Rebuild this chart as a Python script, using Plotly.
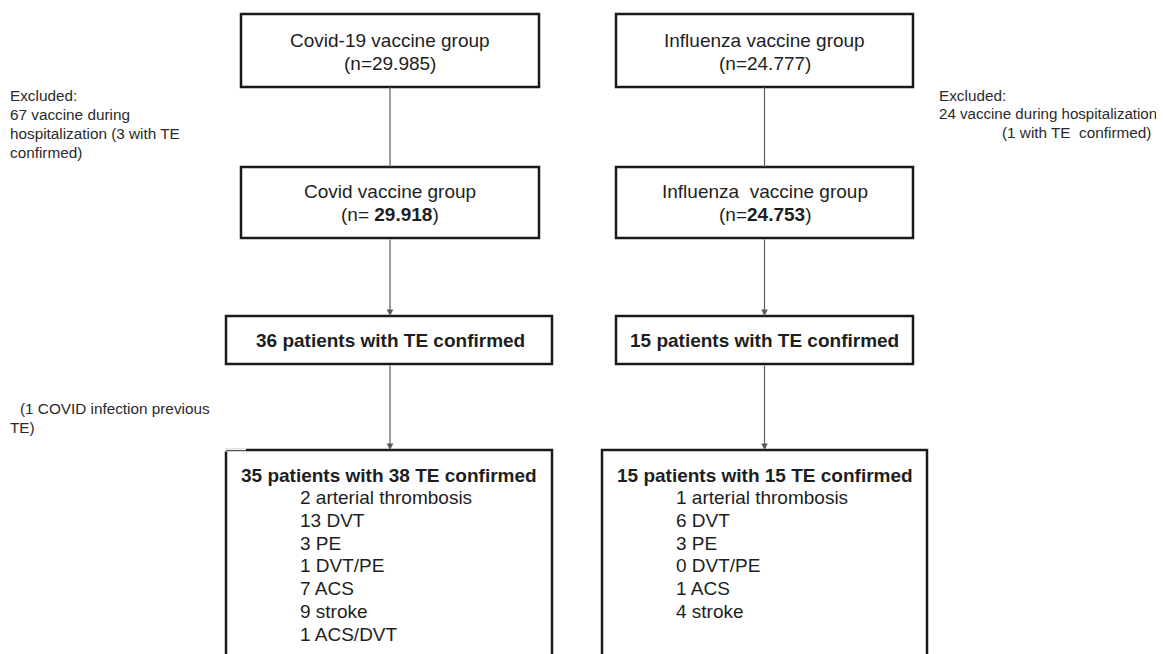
import plotly.graph_objects as go

# ---------------- data ----------------
groups = ["Covid-19 vaccine group", "Influenza vaccine group"]
subgroups = ["Covid vaccine group", "Influenza  vaccine group"]
initial_n = ["29.985", "24.777"]
final_n = ["29.918", "24.753"]
excluded_n = [67, 24]
excluded_te = [3, 1]
te_patients = [36, 15]
final_patients = [35, 15]
te_events = [38, 15]
event_types = ["arterial thrombosis", "DVT", "PE", "DVT/PE", "ACS", "stroke", "ACS/DVT"]
covid_events = [2, 13, 3, 1, 7, 9, 1]
flu_events = [1, 6, 3, 0, 1, 4, None]
covid_infection_previous = 1

# ---------------- layout geometry ----------------
W, H = 1164, 654
OFF = 8  # page body margin
FONT = "Liberation Sans, Arial, sans-serif"
TXT = "#1e1e1e"
BOX_LINE = "#1a1a1a"
CONN = "#5a5a5a"

col_x = [390, 764.5]
box1 = [(241, 539), (616, 913)]
box1_y = (14, 87)
box2_y = (167, 238)
box3 = [(226, 552), (616, 913)]
box3_y = (316, 364)
box4 = [(226, 552), (602, 927)]
box4_y = (450, 700)
item_x = [298, 674]

fig = go.Figure()
shapes = []
ann = []


def rect(x0, x1, y0, y1):
    shapes.append(dict(type="rect", xref="x", yref="y", x0=x0, x1=x1, y0=y0, y1=y1,
                       line=dict(color=BOX_LINE, width=2.5), fillcolor="rgba(0,0,0,0)"))


def text(x, y, s, size=19, anchor="center", color=TXT):
    ann.append(dict(x=x, y=y, xref="x", yref="y", text=s, showarrow=False,
                    xanchor=anchor, yanchor="middle",
                    font=dict(family=FONT, size=size, color=color)))


def arrow(x, y0, y1):
    ann.append(dict(x=x, y=y1, ax=x, ay=y0, xref="x", yref="y", axref="x", ayref="y",
                    text="", showarrow=True, arrowhead=2, arrowsize=1.1, arrowwidth=1.2,
                    arrowcolor=CONN, standoff=0, startstandoff=0))


for i in range(2):
    cx = col_x[i]
    rect(box1[i][0], box1[i][1], *box1_y)
    rect(box1[i][0], box1[i][1], *box2_y)
    rect(box3[i][0], box3[i][1], *box3_y)
    rect(box4[i][0], box4[i][1], *box4_y)
    shapes.append(dict(type="line", xref="x", yref="y", x0=cx, x1=cx,
                       y0=box1_y[1], y1=box2_y[0], line=dict(color=CONN, width=1.2)))
    arrow(cx, box2_y[1], box3_y[0])
    arrow(cx, box3_y[1], box4_y[0])
    text(cx, 40, groups[i])
    text(cx, 63, f"(n={initial_n[i]})")
    text(cx, 191, subgroups[i])
    sp = " " if i == 0 else ""
    text(cx, 214, f"(n={sp}<b>{final_n[i]}</b>)")
    text(cx, 340, f"<b>{te_patients[i]} patients with TE confirmed</b>")
    bx = (box4[i][0] + box4[i][1]) / 2
    text(bx, 475, f"<b>{final_patients[i]} patients with {te_events[i]} TE confirmed</b>")
    vals = covid_events if i == 0 else flu_events
    k = 0
    for name, v in zip(event_types, vals):
        if v is None:
            continue
        text(item_x[i], 497.5 + 22.8 * k, f"{v} {name}", anchor="left")
        k += 1

# thin top-left segment on the lower-left box
shapes.append(dict(type="line", xref="x", yref="y", x0=224, x1=246, y0=450, y1=450,
                   line=dict(color="white", width=3)))
shapes.append(dict(type="line", xref="x", yref="y", x0=226, x1=246, y0=450.5, y1=450.5,
                   line=dict(color="#555555", width=1.2)))

SIDE = 15.3
SIDE_C = "#2a2a2a"
left_lines = ["Excluded:", f"{excluded_n[0]} vaccine during",
              f"hospitalization ({excluded_te[0]} with TE", "confirmed)"]
for j, s in enumerate(left_lines):
    text(8, 95 + 19.2 * j, s, size=SIDE, anchor="left", color=SIDE_C)
text(937, 95, "Excluded:", size=SIDE, anchor="left", color=SIDE_C)
text(937, 113.5, f"{excluded_n[1]} vaccine during hospitalization", size=15.1, anchor="left", color=SIDE_C)
text(1000, 132, f"({excluded_te[1]} with TE  confirmed)", size=SIDE, anchor="left", color=SIDE_C)
text(18, 408, f"({covid_infection_previous} COVID infection previous", size=SIDE, anchor="left", color=SIDE_C)
text(8, 427, "TE)", size=SIDE, anchor="left", color=SIDE_C)

fig.update_layout(
    width=W - OFF, height=H - OFF,
    margin=dict(l=0, r=0, t=0, b=0, pad=0),
    paper_bgcolor="white", plot_bgcolor="white",
    xaxis=dict(range=[OFF, W], visible=False, fixedrange=True),
    yaxis=dict(range=[H, OFF], visible=False, fixedrange=True),
    shapes=shapes, annotations=ann, showlegend=False,
)

fig.write_html("out.html")
